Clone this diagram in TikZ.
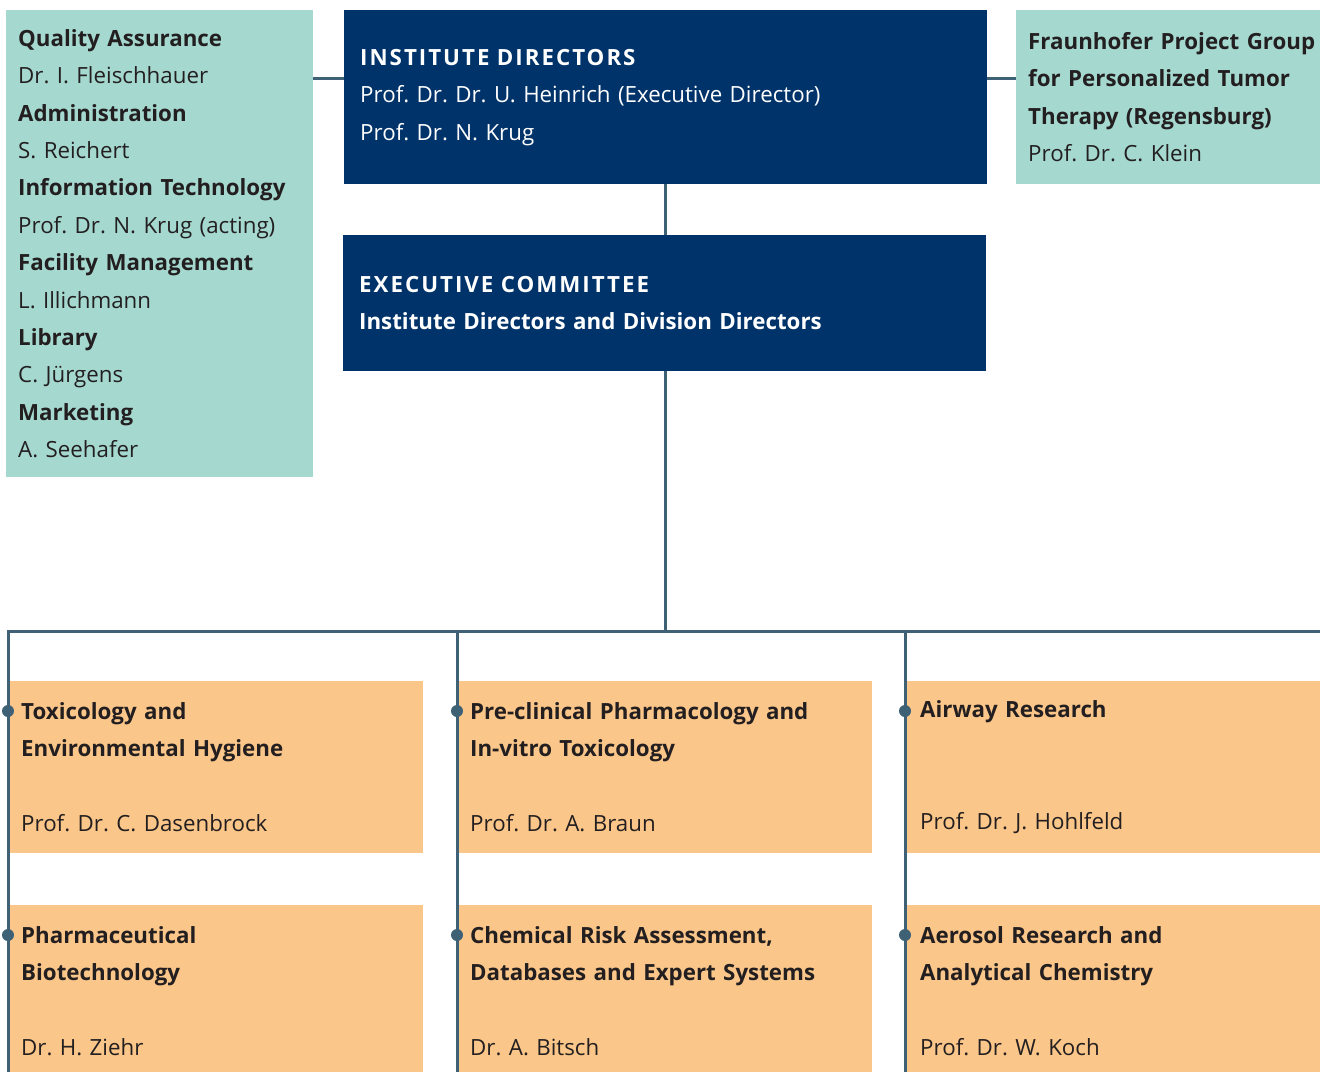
\documentclass[tikz,border=0pt]{standalone}
\usepackage{fontspec}
\setmainfont{Open Sans}
\usetikzlibrary{positioning}
\definecolor{navy}{HTML}{003369}
\definecolor{mint}{HTML}{A5D9D0}
\definecolor{peach}{HTML}{FBC689}
\definecolor{wire}{HTML}{3F6175}
\definecolor{ink}{HTML}{231F20}
\newcommand\headcaps[1]{{\addfontfeatures{LetterSpace=9}#1}}
\tikzset{
  box/.style={anchor=north west, inner xsep=13pt, inner ysep=0pt, align=left,
    font=\fontsize{22.3}{37.4}\selectfont\frenchspacing, text=ink},
  mintbox/.style={box, fill=mint},
  navybox/.style={box, fill=navy, text=white, inner xsep=16pt},
  unitbox/.style={box, fill=peach, minimum width=415pt, minimum height=172pt, text width=389pt},
  wire/.style={draw=wire, line width=3pt},
  knot/.style={fill=wire}
}
\begin{document}
\begin{tikzpicture}[x=1pt,y=-1pt]
\clip (0,0) rectangle (1320,1071);

\node[mintbox, inner xsep=12pt, minimum width=307pt, minimum height=467pt, text width=283pt] (staff) at (6,10)
  {\textbf{Quality Assurance}\\Dr. I. Fleischhauer\\
   \textbf{Administration}\\S. Reichert\\
   \textbf{Information Technology}\\Prof. Dr. N. Krug (acting)\\
   \textbf{Facility Management}\\L. Illichmann\\
   \textbf{Library}\\C. Jürgens\\
   \textbf{Marketing}\\A. Seehafer};
\node[navybox, minimum width=643pt, minimum height=174pt, text width=611pt] (dir) at (344,10)
  {\textbf{\headcaps{INSTITUTE DIRECTORS}}\\Prof. Dr. Dr. U. Heinrich (Executive Director)\\Prof. Dr. N. Krug};
\node[mintbox, inner xsep=12pt, minimum width=304pt, minimum height=174pt, text width=300pt] (pg) at (1016,10)
  {\textbf{Fraunhofer Project Group}\\\textbf{for Personalized Tumor}\\\textbf{Therapy (Regensburg)}\\Prof. Dr. C. Klein};
\node[navybox, minimum width=643pt, minimum height=136pt, text width=611pt] (exec) at (343,235)
  {\textbf{\headcaps{EXECUTIVE COMMITTEE}}\\\textbf{Institute Directors and Division Directors}};

\node[unitbox] (tox) at (8,681)
  {\textbf{Toxicology and}\\\textbf{Environmental Hygiene}\\[37.4pt]Prof. Dr. C. Dasenbrock};
\node[unitbox] (pharma) at (457,681)
  {\textbf{Pre-clinical Pharmacology and}\\\textbf{In-vitro Toxicology}\\[37.4pt]Prof. Dr. A. Braun};
\node[unitbox, inner xsep=15pt, text width=385pt] (airway) at (905,681)
  {\textbf{Airway Research}\\[74.8pt]Prof. Dr. J. Hohlfeld};
\node[unitbox] (biotech) at (8,905)
  {\textbf{Pharmaceutical}\\\textbf{Biotechnology}\\[37.4pt]Dr. H. Ziehr};
\node[unitbox] (risk) at (457,905)
  {\textbf{Chemical Risk Assessment,}\\\textbf{Databases and Expert Systems}\\[37.4pt]Dr. A. Bitsch};
\node[unitbox, inner xsep=15pt, text width=385pt] (aerosol) at (905,905)
  {\textbf{Aerosol Research and}\\\textbf{Analytical Chemistry}\\[37.4pt]Prof. Dr. W. Koch};

\coordinate (link) at (0,78);
\coordinate (bus) at (0,631);
\draw[wire] (staff.east |- link) -- (dir.west |- link);
\draw[wire] (dir.east |- link) -- (pg.west |- link);
\draw[wire] (dir.south) -- (dir.south |- exec.north);
\draw[wire] (dir.south |- exec.south) -- (dir.south |- bus);
\draw[wire] (1320,631) -- (tox.west |- bus) -- (biotech.south west);
\draw[wire] (pharma.west |- bus) -- (risk.south west);
\draw[wire] (airway.west |- bus) -- (aerosol.south west);
\foreach \u in {tox,pharma,airway,biotech,risk,aerosol}
  \fill[knot] (\u.north west) ++(0,30) circle (6);
\end{tikzpicture}
\end{document}
